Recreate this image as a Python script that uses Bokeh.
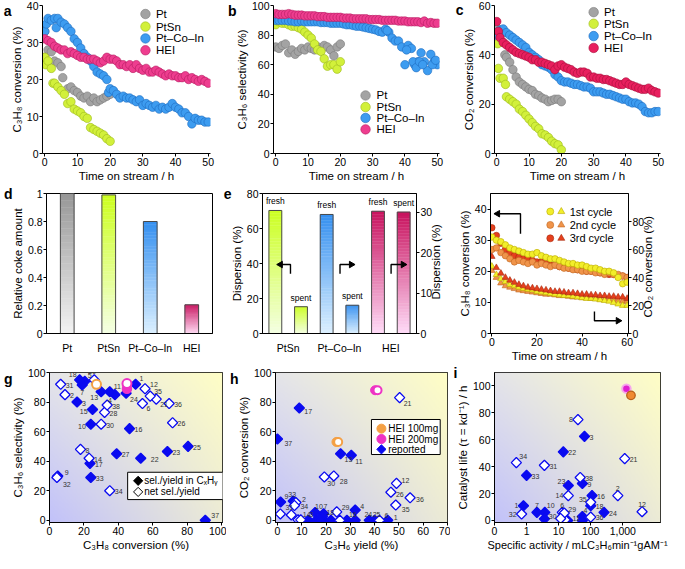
import math
import numpy as np
from bokeh.plotting import figure
from bokeh.models import Range1d, LinearAxis, FixedTicker, ColumnDataSource
from bokeh.layouts import column, row
from bokeh.embed import file_html
from bokeh.resources import INLINE
from bokeh.core.properties import value, field

FONT = "Liberation Sans"
TICK_FS = "10.5px"
LAB_FS = "11.5px"

# ---------------- DATA ----------------
# panel a : C3H8 conversion (%) vs time on stream (h)
a_pt_t = [0, 0, 1, 2, 3, 4, 5, 5.5, 7, 8, 9, 10, 11, 12, 13, 14, 15, 16, 17, 18, 19, 20]
a_pt_v = [33, 26, 28, 27.5, 25, 24.5, 23.5, 20.5, 17.5, 18, 17, 16.5, 15.5, 15, 15.5, 14, 15, 14, 14.5, 15, 15.5, 16]
a_ptsn_t = [0, 0.3, 1, 2, 2.5, 3, 4, 5, 6, 7, 8, 9, 10, 11, 12, 13, 14, 15, 16, 17, 18, 19, 20]
a_ptsn_v = [26, 24, 25, 23, 19, 19, 18, 17, 16, 13.5, 14, 12, 11.5, 11, 10, 9.5, 7, 6.5, 6, 5.5, 5, 4, 3.3]
a_pci_t = [0, 0.5, 1, 2, 3, 3.5, 4, 5, 6, 7, 8, 9, 10, 11, 12, 13, 14, 15, 16, 17, 18, 19, 19.5] + list(range(20, 51))
a_pci_v = [33, 35, 36.5, 36, 36.5, 34, 36.5, 35.5, 35, 34, 33, 31, 30, 28.5, 27, 26, 25, 23.5, 22, 21.5, 21, 20, 16.5,
           17.5, 17, 16, 15, 15.5, 15, 15, 14.5, 14, 14.5,
           13, 13.5, 13, 12.5, 13, 12, 12.5, 12, 12.5, 13.5,
           12.5, 12, 11, 11, 10, 8, 9.5, 9, 9, 8.5,
           8.5]
a_hei_t = list(range(0, 51))
a_hei_v = [31, 30.5, 30, 29, 28.5, 28, 28, 27, 27.5, 27,
           26.5, 26, 26, 25.5, 25.5, 25.5, 25, 24.5, 25, 26,
           25.5, 25.5, 25, 24, 24, 23.5, 24, 23, 24, 23,
           22.5, 23, 22, 22, 22.5, 22, 21.5, 21, 21.5, 21,
           21, 20.5, 20.5, 21, 20, 20.5, 20, 19.5, 20, 19.5,
           19]

# panel b : C3H6 selectivity (%)
b_pt_t = list(range(0, 21))
b_pt_v = [72, 71, 73, 74, 68, 70, 67, 69, 71, 70, 72, 71, 70, 72, 70, 73, 72, 70, 66, 72, 74]
b_ptsn_t = list(range(0, 21))
b_ptsn_v = [87, 89, 88, 88, 87, 86, 86, 85, 84, 82, 80, 78, 74, 70, 69, 64, 59, 60, 60, 57, 62]
b_pci_t = list(range(0, 51)) + [34.5, 40.5, 42.5, 43.5, 44.5, 45.5, 48.5, 49.5]
b_pci_v = [90, 90, 90, 90, 89.5, 89.5, 89, 89, 89.5, 89,
           89, 89, 89, 89, 88.5, 88.5, 88.5, 88, 88, 88,
           88, 87.5, 87, 87, 86.5, 86, 86, 85.5, 85, 84.5,
           84, 83.5, 82.5, 82, 84, 82, 78, 76, 76, 72,
           60, 73, 71, 60, 62, 68, 62, 56, 67, 62,
           60, 83, 70, 62, 58, 62, 60, 60, 63]
b_hei_t = list(range(0, 51))
b_hei_v = [94.5, 94, 94, 94, 94.5, 94, 93.5, 93.5, 93.5, 93,
           93, 93, 93, 92.5, 92.5, 92.5, 92, 92, 92, 92,
           92, 91.5, 91.5, 91.5, 91, 91, 91, 91, 91, 90.5,
           90.5, 90.5, 90.5, 90, 90, 90, 90, 90, 89.5, 89.5,
           89.5, 89, 89, 89, 89, 88.5, 89.5, 88, 88.5, 88,
           88]

# panel c : CO2 conversion (%)
c_pt_t = [0, 1, 2, 2.5, 3, 4, 5, 6, 7, 8, 9, 10, 11, 12, 13, 14, 15, 16, 17, 18, 19, 20]
c_pt_v = [51, 46, 45, 40, 39, 37, 34, 31, 29, 28, 27, 26, 25.5, 24, 23.5, 22.5, 22, 21, 21.5, 22, 22, 21]
c_ptsn_t = [0.3, 0.5, 1, 2, 2.7, 3, 4, 5, 6, 7, 8, 9, 10, 11, 12, 13, 14, 15, 16, 17, 18, 19, 20]
c_ptsn_v = [44.5, 34.5, 30.5, 30.5, 28, 23, 22, 21, 20, 18, 17, 15.5, 14, 12.5, 11, 10, 8, 7.5, 6.5, 5, 4, 3.5, 1.5]
c_pci_t = list(range(0, 51))
c_pci_v = [48, 50, 50.5, 49, 48, 47, 46, 45, 44, 43,
           41, 40, 39, 38, 36, 35.5, 35, 34, 32, 31,
           29.5, 29, 29, 28.5, 28, 28, 27.5, 27, 27, 26.5,
           25, 25, 25, 24.5, 24, 24, 23.5, 23, 22.5, 22,
           22, 21, 20.5, 20.5, 20, 19, 17, 16.5, 16.5, 17,
           17]
c_hei_t = [0, 0.5] + list(range(1, 51))
c_hei_v = [53.5, 49.5,
           47, 45, 44, 43, 42, 41, 40.5, 40, 39.5, 39,
           38, 38, 37, 37, 36.5, 36, 35.5, 34, 35.5, 36,
           35, 34.5, 34, 33, 32.5, 33, 33, 32.5, 31, 31,
           30.5, 30.5, 30, 30, 29.5, 29, 28.5, 28, 28, 29,
           28, 27.5, 27, 26.5, 26, 26, 26.5, 25.5, 25, 24.5]

# panel d : relative coke amount
d_cats = ["Pt", "PtSn", "Pt–Co–In", "HEI"]
d_vals = [1.0, 0.99, 0.80, 0.205]

# panel e : dispersion (%)
e_groups = ["PtSn", "Pt–Co–In", "HEI"]
e_fresh = [70.3, 29.5, 30.3]
e_spent = [15.3, 7.0, 30.1]
e_axis = ["left", "right", "right"]

# panel f : three cycles, C3H8 (left) and CO2 (right)
f_t = list(range(0, 61, 2))
f_c3h8_1 = [31, 30, 29.5, 28.5, 27.5, 27, 26.5, 26, 25.5, 25.5, 26, 25, 24.5, 24, 24, 23.5, 23, 22.5, 22.5, 22,
            22, 21.5, 21, 21, 20.5, 20, 20, 19.5, 18, 16, 16.5]
f_c3h8_2 = [27, 27.5, 26, 25, 24, 23, 23.5, 23, 22.5, 23, 22, 22.5, 22, 21.5, 22, 21.5, 21, 21, 20.5, 20.5,
            20, 20, 20, 19.5, 19.5, 19, 19.5, 19, 19, 18.5, 18]
f_c3h8_3 = [34, 31.5, 29, 27, 26, 25, 24.5, 24, 24, 23.5, 23, 23, 22.5, 22, 22, 21.5, 21.5, 21, 21, 20.5,
            20.5, 20, 20, 20, 19.5, 19.5, 19, 19, 18.5, 18.5, 18]
f_co2_1 = [48, 42, 39, 37, 35, 34, 33, 32, 31.5, 31, 30, 29.5, 29, 28.5, 28, 27.5, 27, 27, 26.5, 26,
           25.5, 25, 25, 24.5, 24, 23.5, 23, 22, 21, 20, 20]
f_co2_2 = [45, 40, 36, 34, 33, 32, 31, 30.5, 30, 29.5, 29, 28.5, 28, 28, 27.5, 27, 27, 26.5, 26, 26,
           25.5, 25.5, 25, 25, 24.5, 24.5, 24, 24, 23.5, 23, 23]
f_co2_3 = [55, 47, 43, 40, 38, 36.5, 35, 34, 33, 32.5, 32, 31.5, 31, 30.5, 30, 30, 29.5, 29, 29, 28.5,
           28, 28, 27.5, 27.5, 27, 27, 26.5, 26.5, 26, 26, 25]
f_cycles = ["1st cycle", "2nd cycle", "3rd cycle"]

# panel g : C3H6 selectivity vs C3H8 conversion (literature)
g_sel_id = [1, 3, 4, 5, 7, 9, 10, 11, 13, 15, 16, 17, 18, 22, 23, 24, 25, 27, 33, 37]
g_sel_x = [50, 16, 38, 20.5, 19, 4.8, 24, 35, 30, 25, 46.5, 23.5, 17.5, 53, 68.5, 44.5, 80.5, 39, 24, 90.5]
g_sel_y = [92, 80, 85, 94, 91.5, 30, 65, 87, 87, 75, 62, 38.5, 95, 42, 46.5, 86, 50, 45, 29, 0]
g_net_id = [2, 6, 8, 12, 14, 21, 26, 28, 29, 30, 31, 32, 34, 35, 36, 38]
g_net_x = [9, 54, 18, 55.5, 23, 62, 71.5, 32, 26, 30, 6.5, 4.3, 35, 58.5, 69.5, 33.5]
g_net_y = [85, 79, 48, 89, 42, 82, 66, 73, 95, 65, 92, 29, 20, 84, 79, 78]
g_hei100_x, g_hei100_y = [27.3], [92]
g_hei200_x, g_hei200_y = [45, 45], [89, 92.5]

# panel h : CO2 conversion vs C3H6 yield
h_sel_id = [1, 3, 4, 5, 7, 9, 10, 11, 13, 15, 16, 17, 18, 22, 23, 24, 25, 27, 33, 37]
h_sel_x = [45.4, 12.7, 32, 16, 19, 1.3, 15.5, 30.4, 26, 19.2, 28.6, 9, 18.5, 22, 32, 37.8, 40, 17.5, 6.5, 0]
h_sel_y = [0, 0, 7, 0, 4.4, 12.4, 5.3, 44, 45, 0, 0, 76, 2.5, 0, 0, 0, 0, 0, 13, 55]
h_net_id = [2, 6, 8, 12, 14, 21, 26, 28, 29, 30, 31, 32, 34, 35, 36, 38]
h_net_x = [7.6, 42, 8.5, 49, 9.6, 50.3, 46.7, 23.2, 24.4, 19.3, 5.7, 1.2, 7, 48.7, 54.6, 25.7]
h_net_y = [12, 0, 0.3, 25, 0.3, 83, 19, 30, 5.7, 29.3, 3.6, 4.3, 10, 10.3, 15.2, 0]
h_hei100_x, h_hei100_y = [24.3, 25.0], [53, 53]
h_hei200_x, h_hei200_y = [40.2, 41.2], [88, 88]

# panel i : catalyst life vs specific activity
i_sel_id = [1, 3, 4, 5, 7, 9, 10, 11, 16, 18, 22, 23, 24, 27, 33]
i_sel_x = [0.8, 64, 55, 55, 2.1, 55, 3.7, 19, 110, 100, 14, 20, 260, 3.6, 1.0]
i_sel_y = [11, 62.5, 3, 0, 6, 27.5, 6, 0, 18.5, 11, 51, 26, 6, 1.2, 33.5]
i_net_id = [2, 6, 8, 12, 14, 21, 28, 29, 30, 31, 32, 34, 35, 36, 38]
i_net_x = [700, 13, 40, 4000, 20, 1150, 16, 15, 11.5, 3.6, 0.7, 0.48, 100, 100, 47]
i_net_y = [18.5, 6, 75, 6.5, 18.5, 46, 0.5, 5.5, 1.5, 41, 4.8, 43, 13.5, 2.5, 32]
i_hei100_x, i_hei100_y = [1800], [93]
i_hei200_x, i_hei200_y = [1300], [98]

# ---------------- STYLE ----------------
PT = ("#a3a3a3", "#7a7a7a")
SN = ("#d2f03a", "#9cb81c")
CI = ("#3d9cf0", "#1f6cc0")
HE = ("#ee3d8f", "#b61c62")
HEC = ("#e81f5e", "#a8103c")
BLUE = "#0a0af0"
ORANGE = "#f4a044"
MAGENTA = "#ee33c4"


def style_axis(ax):
    ax.major_label_text_font = FONT
    ax.major_label_text_font_size = TICK_FS
    ax.major_label_text_color = "black"
    ax.axis_label_text_font = FONT
    ax.axis_label_text_font_size = LAB_FS
    ax.axis_label_text_font_style = "normal"
    ax.axis_label_text_color = "black"
    ax.axis_line_color = "black"
    ax.major_tick_line_color = "black"
    ax.major_tick_in = 0
    ax.major_tick_out = 3
    ax.minor_tick_line_color = None
    ax.major_label_standoff = 1
    ax.axis_label_standoff = 1


def make_fig(w, h, xr, yr, bl, br, bt, bb, box=True, x_axis_type="linear"):
    p = figure(width=w, height=h, x_range=Range1d(*xr), y_range=Range1d(*yr),
               x_axis_type=x_axis_type, output_backend="svg", toolbar_location=None,
               min_border_left=bl, min_border_right=br, min_border_top=bt, min_border_bottom=bb)
    p.title.visible = False
    p.xgrid.visible = False
    p.ygrid.visible = False
    p.outline_line_color = "black" if box else None
    p.background_fill_color = "white"
    p.border_fill_color = "white"
    for ax in p.axis:
        style_axis(ax)
    return p


def bare_axis(ax):
    ax.axis_line_color = None
    ax.major_tick_line_color = None
    ax.minor_tick_line_color = None
    ax.major_tick_out = 0
    ax.major_tick_in = 0
    ax.major_label_text_font = FONT
    ax.major_label_text_color = "black"


def letter(p, s, fh, below_px):
    """Panel letter drawn as the only tick label of an extra, invisible left axis."""
    y0, y1 = p.y_range.start, p.y_range.end
    ypos = round(y1 - below_px * (y1 - y0) / fh, 4)
    ax = LinearAxis(ticker=FixedTicker(ticks=[ypos]), major_label_overrides={ypos: s})
    bare_axis(ax)
    ax.major_label_text_font_size = "14px"
    ax.major_label_text_font_style = "bold"
    ax.major_label_standoff = -4
    p.add_layout(ax, "left")


def right_title(p, s, fh, text_px):
    """Right-hand axis title reading bottom-to-top, centred on the frame."""
    y0, y1 = p.y_range.start, p.y_range.end
    ypos = round(y0 + (fh - text_px) / 2 * (y1 - y0) / fh, 4)
    ax = LinearAxis(ticker=FixedTicker(ticks=[ypos]), major_label_overrides={ypos: s})
    bare_axis(ax)
    ax.major_label_text_font_size = LAB_FS
    ax.major_label_orientation = math.pi / 2
    ax.major_label_standoff = 1
    p.add_layout(ax, "right")


def txt(p, x, y, s, size="11.5px", align="left", baseline="middle", color="black", **kw):
    p.text(x=[x], y=[y], text=[s], text_font=value(FONT), text_font_size=value(size),
           text_align=align, text_baseline=baseline, text_color=color, **kw)


def series(p, t, v, colors, size=8.5, marker="circle", **kw):
    p.scatter(t, v, marker=marker, size=size, fill_color=colors[0], line_color=colors[1],
              line_width=0.6, **kw)


def leg_manual(p, entries, xm, xt, ys, size=9.5, fs="11.5px"):
    for (lab, cols), y in zip(entries, ys):
        p.scatter([xm], [y], marker="circle", size=size, fill_color=cols[0], line_color=cols[1], line_width=0.6)
        txt(p, xt, y, lab, size=fs)


def hexrgb(h):
    return [int(h[i:i + 2], 16) for i in (1, 3, 5)]


def mix(c_bot, c_top, f):
    a, b = hexrgb(c_bot), hexrgb(c_top)
    return "#%02x%02x%02x" % tuple(int(round(a[k] + (b[k] - a[k]) * f)) for k in range(3))


def grad_bar(p, xc, width, top, c_top, c_bot, n=40, rng="default"):
    edges = np.linspace(0, top, n + 1)
    cols = [mix(c_bot, c_top, (k + 0.5) / n) for k in range(n)]
    p.quad(left=xc - width / 2, right=xc + width / 2, bottom=edges[:-1], top=edges[1:],
           fill_color=cols, line_color=cols, line_width=0.4, y_range_name=rng)
    p.quad(left=xc - width / 2, right=xc + width / 2, bottom=0, top=top,
           fill_color=None, line_color="#4a4a4a", line_width=1, y_range_name=rng)


def add_bg(p, x0, x1, y0, y1):
    n = 128
    BL, TL, TR, BR = (194, 194, 250), (229, 229, 233), (255, 254, 198), (236, 235, 214)
    img = np.zeros((n, n), dtype=np.uint32)
    v = img.view(dtype=np.uint8).reshape((n, n, 4))
    fy = np.linspace(0, 1, n)[:, None]
    fx = np.linspace(0, 1, n)[None, :]
    for k in range(3):
        v[:, :, k] = ((1 - fx) * (1 - fy) * BL[k] + fx * (1 - fy) * BR[k]
                      + (1 - fx) * fy * TL[k] + fx * fy * TR[k]).astype(np.uint8)
    v[:, :, 3] = 255
    p.image_rgba(image=[img], x=x0, y=y0, dw=x1 - x0, dh=y1 - y0)


def diamonds(p, xs, ys, filled, size=7.2, color=BLUE):
    p.scatter(xs, ys, marker="square", angle=math.pi / 4, size=size,
              fill_color=color if filled else "white", line_color=color, line_width=1.3)


def num_labels(p, ids, xs, ys, offs):
    dx, dy, al = [], [], []
    for i in ids:
        o = offs.get(i, (5, 1, "left"))
        dx.append(o[0]); dy.append(o[1]); al.append(o[2])
    src = ColumnDataSource(dict(x=xs, y=ys, t=[str(i) for i in ids], dx=dx, dy=dy, al=al))
    p.text(x="x", y="y", text="t", x_offset=field("dx"), y_offset=field("dy"), text_align=field("al"),
           text_baseline="middle", text_font=value(FONT), text_font_size=value("7px"),
           text_color="#333333", source=src)


def right_axis(p, name, ticks):
    ax = LinearAxis(y_range_name=name)
    style_axis(ax)
    ax.ticker = FixedTicker(ticks=ticks)
    p.add_layout(ax, "right")
    return ax


# ---------------- ROW 1 ----------------
R1H, R1T, R1B = 184, 5, 31
FH1 = R1H - R1T - R1B

pa = make_fig(224, R1H, (-0.7, 50.7), (0, 40), 36, 14, R1T, R1B, box=False)
pa.xaxis.ticker = FixedTicker(ticks=[0, 10, 20, 30, 40, 50])
pa.yaxis.ticker = FixedTicker(ticks=[0, 10, 20, 30, 40])
pa.xaxis.axis_label = "Time on stream / h"
pa.yaxis.axis_label = "C₃H₈ conversion (%)"
series(pa, a_pt_t, a_pt_v, PT)
series(pa, a_ptsn_t, a_ptsn_v, SN)
series(pa, a_pci_t, a_pci_v, CI)
series(pa, a_hei_t, a_hei_v, HE)
leg_manual(pa, [("Pt", PT), ("PtSn", SN), ("Pt–Co–In", CI), ("HEI", HE)], 30.8, 34.0, [37.7, 34.3, 31.1, 27.9])
letter(pa, "a", FH1, 5)

pb = make_fig(228, R1H, (-0.7, 50.7), (0, 100), 41, 13, R1T, R1B, box=False)
pb.xaxis.ticker = FixedTicker(ticks=[0, 10, 20, 30, 40, 50])
pb.yaxis.ticker = FixedTicker(ticks=[0, 20, 40, 60, 80, 100])
pb.xaxis.axis_label = "Time on stream / h"
pb.yaxis.axis_label = "C₃H₆ selectivity (%)"
series(pb, b_pt_t, b_pt_v, PT)
series(pb, b_ptsn_t, b_ptsn_v, SN)
series(pb, b_pci_t, b_pci_v, CI)
series(pb, b_hei_t, b_hei_v, HE)
leg_manual(pb, [("Pt", PT), ("PtSn", SN), ("Pt–Co–In", CI), ("HEI", HE)], 27.8, 31.2, [39.2, 31.4, 24.0, 16.3])
letter(pb, "b", FH1, 5)

pc = make_fig(217, R1H, (-0.7, 50.7), (0, 60), 36, 9, R1T, R1B, box=False)
pc.xaxis.ticker = FixedTicker(ticks=[0, 10, 20, 30, 40, 50])
pc.yaxis.ticker = FixedTicker(ticks=[0, 20, 40, 60])
pc.xaxis.axis_label = "Time on stream / h"
pc.yaxis.axis_label = "CO₂ conversion (%)"
series(pc, c_pt_t, c_pt_v, PT)
series(pc, c_ptsn_t, c_ptsn_v, SN)
series(pc, c_pci_t, c_pci_v, CI)
series(pc, c_hei_t, c_hei_v, HEC)
leg_manual(pc, [("Pt", PT), ("PtSn", SN), ("Pt–Co–In", CI), ("HEI", HEC)], 30.0, 33.2, [57.3, 52.6, 47.6, 42.8])
letter(pc, "c", FH1, 5)

# ---------------- ROW 2 ----------------
R2H, R2T, R2B = 180, 9, 25
FH2 = R2H - R2T - R2B

pd = make_fig(220, R2H, (0, 4), (0, 1.0), 37, 8, R2T, R2B, box=True)
pd.xaxis.ticker = FixedTicker(ticks=[0.5, 1.5, 2.5, 3.5])
pd.xaxis.major_label_overrides = {0.5: d_cats[0], 1.5: d_cats[1], 2.5: d_cats[2], 3.5: d_cats[3]}
pd.xaxis.major_tick_line_color = None
pd.xaxis.major_label_standoff = 5
pd.yaxis.ticker = FixedTicker(ticks=[0, 0.2, 0.4, 0.6, 0.8, 1.0])
pd.yaxis.major_label_overrides = {0: "0", 0.2: "0.2", 0.4: "0.4", 0.6: "0.6", 0.8: "0.8", 1.0: "1"}
pd.yaxis.axis_label = "Relative coke amount"
d_colors = [("#979797", "#f3f3f3"), ("#ccff1e", "#f5ffe4"), ("#3590f0", "#dcf0ff"), ("#c8125e", "#ffdcf4")]
for k, v in enumerate(d_vals):
    grad_bar(pd, k + 0.5, 0.33, v, d_colors[k][0], d_colors[k][1])
letter(pd, "d", FH2, 0)

E_RMAX = 34.7
pe = make_fig(232, R2H, (0, 6), (0, 80), 34, 36, R2T, R2B, box=True)
pe.extra_y_ranges = {"r": Range1d(0, E_RMAX)}
right_axis(pe, "r", [0, 10, 20, 30])
right_title(pe, "Dispersion (%)", FH2, 75)
pe.xaxis.ticker = FixedTicker(ticks=[1, 3, 5])
pe.xaxis.major_label_overrides = {1: e_groups[0], 3: e_groups[1], 5: e_groups[2]}
pe.xaxis.major_tick_line_color = None
pe.xaxis.major_label_standoff = 5
pe.yaxis[0].ticker = FixedTicker(ticks=[0, 20, 40, 60, 80])
pe.yaxis[0].axis_label = "Dispersion (%)"
e_colors = [("#ccff22", "#f4ffe2"), ("#3590f0", "#dcf0ff"), ("#c8125e", "#ffdcf8")]
for k in range(3):
    rng = "default" if e_axis[k] == "left" else "r"
    grad_bar(pe, 2 * k + 0.5, 0.5, e_fresh[k], e_colors[k][0], e_colors[k][1], rng=rng)
    grad_bar(pe, 2 * k + 1.5, 0.5, e_spent[k], e_colors[k][0], e_colors[k][1], rng=rng)
    txt(pe, 2 * k + 0.5, e_fresh[k], "fresh", size="8.5px", align="center", baseline="bottom",
        y_offset=-4, y_range_name=rng)
    txt(pe, 2 * k + 1.5, e_spent[k], "spent", size="8.5px", align="center", baseline="bottom",
        y_offset=-4, y_range_name=rng)
# axis-indicator arrows
pe.line([1.09, 1.09, 0.76], [34.2, 39.4, 39.4], line_color="black", line_width=1.4)
pe.scatter([0.70], [39.4], marker="triangle", angle=math.pi / 2, size=6.5, fill_color="black", line_color="black")
for xv, xh in [(3.02, 3.40), (5.01, 5.42)]:
    pe.line([xv, xv, xh], [34.2, 39.4, 39.4], line_color="black", line_width=1.4)
    pe.scatter([xh + 0.06], [39.4], marker="triangle", angle=-math.pi / 2, size=6.5, fill_color="black",
               line_color="black")
letter(pe, "e", FH2, 0)

F_LT, F_LB = 9, 31
FHF = R2H - F_LT - F_LB
pf = make_fig(217, R2H, (-0.6, 60.6), (0, 45), 38, 41, F_LT, F_LB, box=True)
pf.extra_y_ranges = {"r": Range1d(0, 100)}
right_axis(pf, "r", [0, 20, 40, 60, 80])
right_title(pf, "CO₂ conversion (%)", FHF, 108)
pf.xaxis.ticker = FixedTicker(ticks=[0, 20, 40, 60])
pf.xaxis.axis_label = "Time on stream / h"
pf.yaxis[0].ticker = FixedTicker(ticks=[0, 10, 20, 30, 40])
pf.yaxis[0].axis_label = "C₃H₈ conversion (%)"
F1 = ("#f2ee2a", "#b8a800")
F2 = ("#f0944a", "#c0641e")
F3 = ("#e5401e", "#a82a0c")
series(pf, f_t, f_co2_2, F2, size=6.5, marker="triangle", y_range_name="r")
series(pf, f_t, f_co2_1, F1, size=6.5, marker="triangle", y_range_name="r")
series(pf, f_t, f_co2_3, F3, size=6.5, marker="triangle", y_range_name="r")
series(pf, f_t, f_c3h8_3, F3, size=6.5)
series(pf, f_t, f_c3h8_2, F2, size=6.5)
series(pf, f_t, f_c3h8_1, F1, size=6.5)
for lab, cols, y in zip(f_cycles, [F1, F2, F3], [39.2, 34.9, 30.6]):
    pf.scatter([25.9], [y], marker="circle", size=7, fill_color=cols[0], line_color=cols[1], line_width=0.6)
    pf.scatter([30.8], [y], marker="triangle", size=7, fill_color=cols[0], line_color=cols[1], line_width=0.6)
    txt(pf, 34.5, y, lab, size="11px")
pf.line([12.7, 12.7, 3.4], [32.1, 38.5, 38.5], line_color="black", line_width=1.4)
pf.scatter([2.6], [38.5], marker="triangle", angle=math.pi / 2, size=6.5, fill_color="black", line_color="black")
pf.line([45.5, 45.5, 55.2], [7.1, 4.1, 4.1], line_color="black", line_width=1.4)
pf.scatter([56.0], [4.1], marker="triangle", angle=-math.pi / 2, size=6.5, fill_color="black", line_color="black")
letter(pf, "f", FHF, -3)

# ---------------- ROW 3 ----------------
R3H, R3T, R3B = 189, 8, 31
FH3 = R3H - R3T - R3B

pg = make_fig(226, R3H, (0, 100.5), (-1.5, 100), 41, 4, R3T, R3B, box=True)
add_bg(pg, 0, 100.5, -1.5, 100)
pg.xaxis.ticker = FixedTicker(ticks=[0, 20, 40, 60, 80, 100])
pg.yaxis.ticker = FixedTicker(ticks=[0, 20, 40, 60, 80, 100])
pg.xaxis.axis_label = "C₃H₈ conversion (%)"
pg.yaxis.axis_label = "C₃H₆ selectivity (%)"
diamonds(pg, g_sel_x, g_sel_y, True)
diamonds(pg, g_net_x, g_net_y, False)
pg.scatter(g_hei100_x, g_hei100_y, marker="circle", size=9, fill_color="white", line_color=ORANGE, line_width=2)
pg.scatter(g_hei200_x[:1], g_hei200_y[:1], marker="circle", size=9, fill_color=MAGENTA, line_color=MAGENTA, line_width=1.5)
pg.scatter(g_hei200_x[1:], g_hei200_y[1:], marker="circle", size=9, fill_color="white", line_color=MAGENTA, line_width=2)
g_offs = {18: (-3, -5, "right"), 5: (3, -6, "left"), 29: (-2, -8, "center"), 7: (0, 7, "center"),
          13: (-3, 6, "right"), 4: (-3, 6, "right"), 24: (4, 6, "left"), 11: (4, -5, "left"),
          1: (4, -6, "left"), 12: (5, -4, "left"), 35: (4, -5, "left"), 21: (4, 5, "left"),
          6: (4, 5, "left"), 15: (-5, 2, "right"), 10: (-5, 2, "right"), 9: (7, -3, "left"),
          32: (6, 7, "left"), 22: (10, 1, "left"), 37: (6, -5, "left")}
num_labels(pg, g_sel_id + g_net_id, g_sel_x + g_net_x, g_sel_y + g_net_y, g_offs)
pg.quad(left=45.4, right=102, bottom=14, top=32.5, fill_color="white", line_color="black", line_width=1)
pg.scatter([51.5], [26.7], marker="square", angle=math.pi / 4, size=6.5, fill_color="black", line_color="black")
pg.scatter([51.5], [19.2], marker="square", angle=math.pi / 4, size=6.5, fill_color="white", line_color="black", line_width=1)
txt(pg, 55.0, 26.7, "sel./yield in CₓHᵧ", size="10px")
txt(pg, 55.0, 19.2, "net sel./yield", size="10px")
letter(pg, "g", FH3, 6)

ph = make_fig(224, R3H, (-0.8, 70), (-1.5, 100), 41, 3, R3T, R3B, box=True)
add_bg(ph, -0.8, 70, -1.5, 100)
ph.xaxis.ticker = FixedTicker(ticks=[0, 10, 20, 30, 40, 50, 60, 70])
ph.yaxis.ticker = FixedTicker(ticks=[0, 20, 40, 60, 80, 100])
ph.xaxis.axis_label = "C₃H₆ yield (%)"
ph.yaxis.axis_label = "CO₂ conversion (%)"
diamonds(ph, h_sel_x, h_sel_y, True)
diamonds(ph, h_net_x, h_net_y, False)
ph.scatter(h_hei100_x[:1], h_hei100_y[:1], marker="circle", size=9, fill_color=ORANGE, line_color=ORANGE)
ph.scatter(h_hei100_x[1:], h_hei100_y[1:], marker="circle", size=8, fill_color="white", line_color=ORANGE, line_width=2)
ph.scatter(h_hei200_x[:1], h_hei200_y[:1], marker="circle", size=9, fill_color=MAGENTA, line_color=MAGENTA)
ph.scatter(h_hei200_x[1:], h_hei200_y[1:], marker="circle", size=8, fill_color="white", line_color=MAGENTA, line_width=2)
h_offs = {13: (4, 6, "left"), 11: (4, 6, "left"), 30: (3, 7, "left"), 28: (6, 6, "left"), 21: (4, 6, "left"),
          17: (5, 4, "left"), 37: (7, 4, "left"), 9: (4, -5, "left"), 33: (-1, -7, "center"),
          2: (6, -3, "left"), 34: (6, 1, "left"), 32: (-4, -3, "right"), 31: (-2, -7, "center"),
          8: (-3, 5, "right"), 14: (2, -5, "left"), 3: (1, -6, "left"), 10: (0, -6, "left"),
          7: (0, -7, "left"), 18: (4, -4, "left"), 5: (-1, 8, "right"), 27: (0, 8, "center"),
          15: (1, 8, "center"), 22: (1, 8, "center"), 38: (3, 8, "left"), 16: (2, -6, "left"),
          29: (5, -4, "left"), 4: (5, -3, "left"), 23: (5, 5, "left"), 24: (-1, -6, "center"),
          25: (2, -6, "center"), 6: (5, -5, "left"), 1: (6, -3, "left"), 12: (5, -3, "left"),
          26: (5, 2, "left"), 36: (6, 2, "left"), 35: (6, 4, "left")}
num_labels(ph, h_sel_id + h_net_id, h_sel_x + h_net_x, h_sel_y + h_net_y, h_offs)
ph.quad(left=38.7, right=67, bottom=44.5, top=68.2, fill_color="white", line_color="black", line_width=1)
ph.scatter([42.8], [62.0], marker="circle", size=9, fill_color=ORANGE, line_color=ORANGE)
ph.scatter([42.8], [55.0], marker="circle", size=9, fill_color=MAGENTA, line_color=MAGENTA)
ph.scatter([42.8], [48.0], marker="square", angle=math.pi / 4, size=6.5, fill_color=BLUE, line_color=BLUE)
txt(ph, 45.6, 62.0, "HEI 100mg", size="10px")
txt(ph, 45.6, 55.0, "HEI 200mg", size="10px")
txt(ph, 45.6, 48.0, "reported", size="10px")
letter(ph, "h", FH3, 6)

pi_ = make_fig(219, R3H, (0.1, 15000), (-1.5, 110), 44, 9, R3T, R3B, box=True, x_axis_type="log")
add_bg(pi_, 0.1, 15000, -1.5, 110)
pi_.xaxis.ticker = FixedTicker(ticks=[0.1, 1, 10, 100, 1000])
pi_.xaxis.major_label_overrides = {0.1: "0", 1: "1", 10: "10", 100: "100", 1000: "1,000"}
pi_.yaxis.ticker = FixedTicker(ticks=[0, 20, 40, 60, 80, 100])
pi_.xaxis.axis_label = "Specific activity / mLC₃H₆min⁻¹gAM⁻¹"
pi_.xaxis.axis_label_text_font_size = "11px"
pi_.yaxis.axis_label = "Catalyst life (τ = kd⁻¹) / h"
diamonds(pi_, i_sel_x, i_sel_y, True)
diamonds(pi_, i_net_x, i_net_y, False)
pi_.scatter(i_hei200_x, i_hei200_y, marker="circle", size=8.5, fill_color="#e020d0", line_color="#f6a6ec", line_width=2)
pi_.scatter(i_hei100_x, i_hei100_y, marker="circle", size=8.5, fill_color="#f08a30", line_color="#b86018", line_width=1.3)
i_offs = {1: (-5, 0, "right"), 32: (-5, 0, "right"), 7: (0, -7, "center"), 10: (2, -7, "left"),
          27: (0, 8, "center"), 30: (-4, -2, "right"), 6: (0, -7, "center"), 29: (4, -4, "left"),
          28: (-3, 6, "right"), 11: (5, -2, "left"), 4: (1, -6, "left"), 5: (1, 7, "left"),
          35: (-4, -3, "right"), 14: (-5, 0, "right"), 23: (-3, -4, "right"), 8: (-5, 0, "right"),
          2: (0, -7, "center"), 12: (0, -7, "center"), 36: (5, 0, "left"), 34: (3, -6, "left")}
num_labels(pi_, i_sel_id + i_net_id, i_sel_x + i_net_x, i_sel_y + i_net_y, i_offs)
letter(pi_, "i", FH3, 0)

layout = column(row(pa, pb, pc), row(pd, pe, pf), row(pg, ph, pi_))
open("out.html", "w").write(file_html(layout, INLINE))
